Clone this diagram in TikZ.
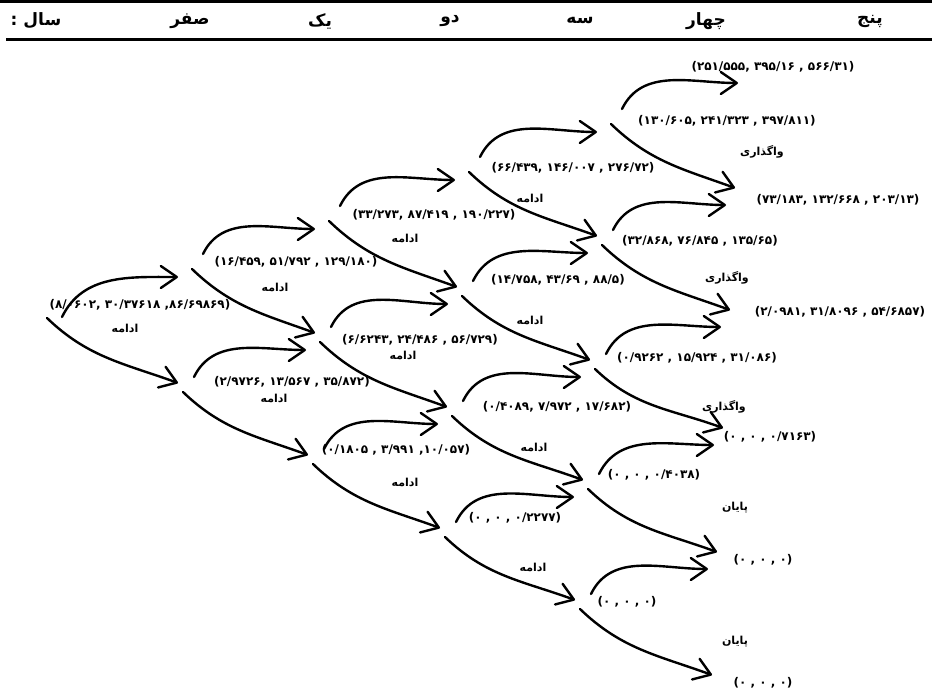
\documentclass[tikz,border=0pt]{standalone}
\usepackage{fontspec}
\usetikzlibrary{arrows.meta}
\TeXXeTstate=1
\newfontfamily\fa[Script=Arabic]{DejaVu Sans}
\newfontfamily\fanum{DejaVu Sans}
\newcommand\treeup[2]{\draw[uparr] ([xshift=16pt,yshift=14pt]#1) to ([xshift=-9pt,yshift=-9pt]#2);}
\newcommand\treedn[2]{\draw[dnarr] ([xshift=5pt,yshift=-1pt]#1) to ([yshift=8pt]#2);}
\newcommand\fw[1]{\beginR #1\endR}
\begin{document}
\begin{tikzpicture}[x=1pt,y=1pt,
  arr/.style={line width=2.4pt, line cap=round, -{Straight Barb[length=16pt,width=22pt,line cap=round,line join=round]}},
  uparr/.style={arr, out=64, in=180},
  dnarr/.style={arr, out=-44, in=160},
  num/.style={font=\fanum\bfseries\fontsize{12}{14}\selectfont, inner sep=0pt},
  word/.style={font=\fa\bfseries\fontsize{11}{13}\selectfont, inner sep=0pt},
  yr/.style={font=\fa\bfseries\fontsize{17}{19}\selectfont, inner sep=0pt},
  rule/.style={line width=3pt}
]
\useasboundingbox (0,0) rectangle (932,-698);
% header
\coordinate (t0) at (0,-2);
\coordinate (t1) at (932,-2);
\coordinate (b0) at (6,-40);
\coordinate (b1) at (932,-40);
\draw[rule] (t0) -- (t1);
\draw[rule] (b0) -- (b1);
\node[yr] (y0) at (36,-21) {{\fanum :}\ \fw{سال}};
\node[yr] (y1) at (190,-21) {\fw{صفر}};
\node[yr] (y2) at (320,-21) {\fw{یک}};
\node[yr] (y3) at (450,-21) {\fw{دو}};
\node[yr] (y4) at (580,-21) {\fw{سه}};
\node[yr] (y5) at (706,-21) {\fw{چهار}};
\node[yr] (y6) at (870,-21) {\fw{پنج}};
% tree points
\coordinate (n0) at (45,-317);
\coordinate (n1a) at (187,-268);
\coordinate (n1b) at (178,-391);
\coordinate (n2a) at (324,-220);
\coordinate (n2b) at (315,-341);
\coordinate (n2c) at (308,-463);
\coordinate (n3a) at (464,-171);
\coordinate (n3b) at (457,-295);
\coordinate (n3c) at (447,-415);
\coordinate (n3d) at (440,-536);
\coordinate (n4a) at (606,-123);
\coordinate (n4b) at (597,-244);
\coordinate (n4c) at (590,-368);
\coordinate (n4d) at (583,-488);
\coordinate (n4e) at (575,-608);
\coordinate (n5a) at (747,-74);
\coordinate (n5b) at (735,-196);
\coordinate (n5c) at (730,-318);
\coordinate (n5d) at (723,-436);
\coordinate (n5e) at (717,-560);
\coordinate (n5f) at (712,-683);
% arrows
\draw[uparr] ([xshift=17pt]n0) to ([xshift=-9pt,yshift=-9pt]n1a);
\draw[dnarr] ([xshift=2pt,yshift=-1pt]n0) to ([yshift=8pt]n1b);
\treeup{n1a}{n2a} \treedn{n1a}{n2b}
\treeup{n1b}{n2b} \treedn{n1b}{n2c}
\treeup{n2a}{n3a} \treedn{n2a}{n3b}
\treeup{n2b}{n3b} \treedn{n2b}{n3c}
\treeup{n2c}{n3c} \treedn{n2c}{n3d}
\treeup{n3a}{n4a} \treedn{n3a}{n4b}
\treeup{n3b}{n4b} \treedn{n3b}{n4c}
\treeup{n3c}{n4c} \treedn{n3c}{n4d}
\treeup{n3d}{n4d} \treedn{n3d}{n4e}
\treeup{n4a}{n5a} \treedn{n4a}{n5b}
\treeup{n4b}{n5b} \treedn{n4b}{n5c}
\treeup{n4c}{n5c} \treedn{n4c}{n5d}
\treeup{n4d}{n5d} \treedn{n4d}{n5e}
\treeup{n4e}{n5e} \treedn{n4e}{n5f}
% labels
\node[num] (l1) at (773,-67) {(۲۵۱/۵۵۵, ۳۹۵/۱۶ , ۵۶۶/۳۱)};
\node[num] (l2) at (727,-121) {(۱۳۰/۶۰۵, ۲۴۱/۳۲۳ , ۳۹۷/۸۱۱)};
\node[word] (l3) at (762,-152) {\fw{واگذاری}};
\node[num] (l4) at (838,-200) {(۷۳/۱۸۳, ۱۳۲/۶۶۸ , ۲۰۳/۱۳)};
\node[num] (l5) at (573,-168) {(۶۶/۴۳۹, ۱۴۶/۰۰۷ , ۲۷۶/۷۲)};
\node[word] (l6) at (530,-198) {\fw{ادامه}};
\node[num] (l7) at (434,-215) {(۳۳/۲۷۳, ۸۷/۴۱۹ , ۱۹۰/۲۲۷)};
\node[word] (l8) at (405,-238) {\fw{ادامه}};
\node[num] (l9) at (296,-262) {(۱۶/۴۵۹, ۵۱/۷۹۲ , ۱۲۹/۱۸۰)};
\node[word] (l10) at (275,-287) {\fw{ادامه}};
\node[num] (l11) at (140,-305) {(۸/۰۶۰۲, ۳۰/۳۷۶۱۸ ,۸۶/۶۹۸۶۹)};
\node[word] (l12) at (125,-328) {\fw{ادامه}};
\node[num] (l13) at (700,-241) {(۳۲/۸۶۸, ۷۶/۸۴۵ , ۱۳۵/۶۵)};
\node[word] (l14) at (727,-278) {\fw{واگذاری}};
\node[num] (l15) at (558,-280) {(۱۴/۷۵۸, ۴۳/۶۹ , ۸۸/۵)};
\node[word] (l16) at (530,-320) {\fw{ادامه}};
\node[num] (l17) at (840,-312) {(۲/۰۹۸۱, ۳۱/۸۰۹۶ , ۵۴/۶۸۵۷)};
\node[num] (l18) at (697,-358) {(۰/۹۲۶۲ , ۱۵/۹۲۴ , ۳۱/۰۸۶)};
\node[word] (l19) at (724,-407) {\fw{واگذاری}};
\node[num] (l20) at (770,-437) {(۰ , ۰ , ۰/۷۱۶۳)};
\node[num] (l21) at (420,-340) {(۶/۶۲۴۳, ۲۴/۴۸۶ , ۵۶/۷۲۹)};
\node[word] (l22) at (403,-355) {\fw{ادامه}};
\node[num] (l24) at (292,-382) {(۲/۹۷۲۶, ۱۳/۵۶۷ , ۳۵/۸۷۲)};
\node[word] (l25) at (274,-398) {\fw{ادامه}};
\node[num] (l26) at (557,-407) {(۰/۴۰۸۹, ۷/۹۷۲ , ۱۷/۶۸۲)};
\node[num] (l27) at (396,-450) {(۰/۱۸۰۵ , ۳/۹۹۱ ,۱۰/۰۵۷)};
\node[word] (l28) at (534,-447) {\fw{ادامه}};
\node[word] (l29) at (405,-482) {\fw{ادامه}};
\node[num] (l30) at (654,-475) {(۰ , ۰ , ۰/۴۰۳۸)};
\node[num] (l31) at (515,-518) {(۰ , ۰ , ۰/۲۲۷۷)};
\node[word] (l32) at (735,-508) {\fw{پایان}};
\node[num] (l33) at (763,-560) {(۰ , ۰ , ۰)};
\node[word] (l34) at (533,-567) {\fw{ادامه}};
\node[num] (l35) at (627,-602) {(۰ , ۰ , ۰)};
\node[word] (l36) at (735,-642) {\fw{پایان}};
\node[num] (l37) at (763,-683) {(۰ , ۰ , ۰)};
\end{tikzpicture}
\end{document}
